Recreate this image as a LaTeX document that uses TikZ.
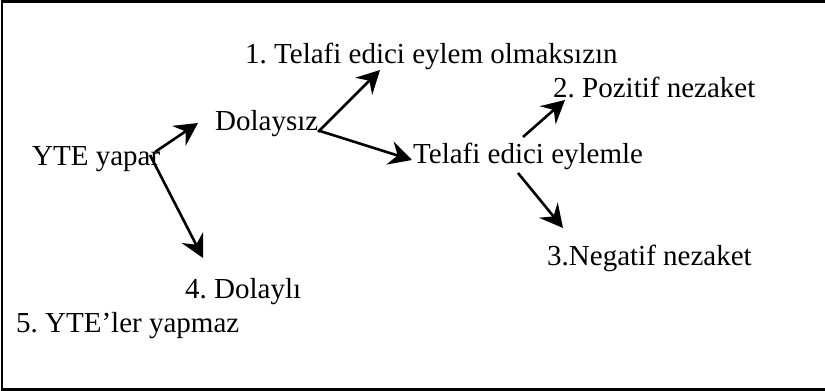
\documentclass[tikz,border=0pt]{standalone}
\usepackage{fontspec}
\setmainfont{Liberation Serif}
\usetikzlibrary{arrows.meta}
\begin{document}
\frenchspacing
\begin{tikzpicture}[x=1pt,y=-1pt,
  lbl/.style={anchor=base west,inner sep=0pt,font=\fontsize{29}{34}\selectfont},
  arr/.style={line width=2.6pt,-{Stealth[length=23pt,width=24pt,inset=8pt]}},
  frame/.style={line width=2.5pt}]
\useasboundingbox (0,0) rectangle (825,391);
\draw[frame] (2,1.5) rectangle (828,389.5);
\node[lbl] (n1) at (245,63) {1. Telafi edici eylem olmaksızın};
\node[lbl] (dol) at (215,130) {Dolaysız};
\node[lbl] (yte) at (32,165) {YTE yapar};
\node[lbl] (tel) at (413,163) {Telafi edici eylemle};
\node[lbl] (poz) at (553,97) {2. Pozitif nezaket};
\node[lbl] (neg) at (547,265) {3.Negatif nezaket};
\node[lbl] (dly) at (185,298) {4. Dolaylı};
\node[lbl] (yap) at (16,332) {5. YTE’ler yapmaz};
\coordinate (a1s) at (155,152); \coordinate (a1e) at (198,123);
\coordinate (a2s) at (318,132); \coordinate (a2e) at (380,70);
\coordinate (a3s) at (320,131); \coordinate (a3e) at (412,160);
\coordinate (a4s) at (150,155); \coordinate (a4e) at (203,258);
\coordinate (a5s) at (523,137); \coordinate (a5e) at (565,100);
\coordinate (a6s) at (518,173); \coordinate (a6e) at (563,228);
\draw[arr] (a1s) -- (a1e);
\draw[arr] (a2s) -- (a2e);
\draw[arr] (a3s) -- (a3e);
\draw[arr] (a4s) -- (a4e);
\draw[arr] (a5s) -- (a5e);
\draw[arr] (a6s) -- (a6e);
\end{tikzpicture}
\end{document}
